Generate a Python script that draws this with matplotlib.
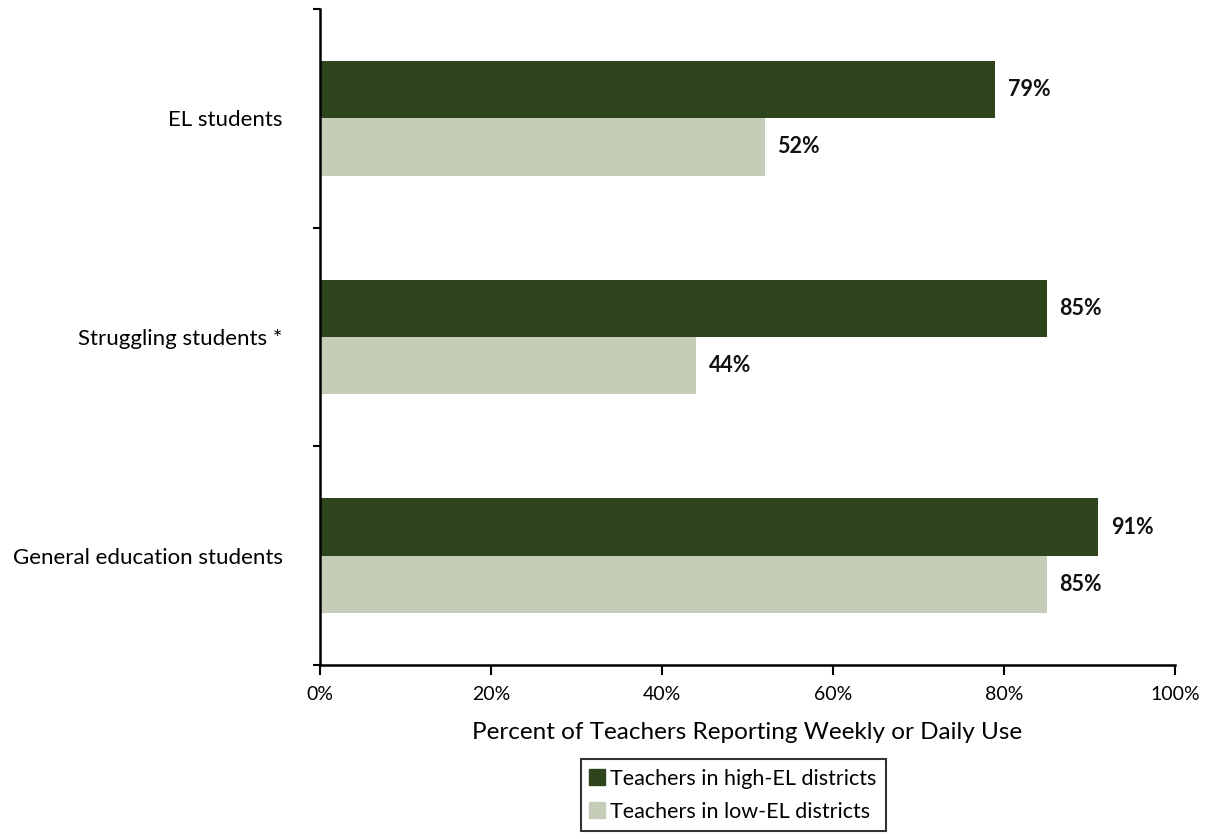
import matplotlib.pyplot as plt
import numpy as np
from matplotlib.ticker import FixedLocator, PercentFormatter
from matplotlib.lines import Line2D

categories = ['General education students', 'Struggling students *', 'EL students']
high_el = [91, 85, 79]
low_el = [85, 44, 52]
series_names = ['Teachers in high-EL districts', 'Teachers in low-EL districts']
dark = '#2d441d'
light = '#c5cdb8'

plt.rcParams['font.family'] = ['Lato', 'DejaVu Sans']

fig = plt.figure(figsize=(12.09, 8.39), dpi=100)
ax = fig.add_axes([0.2647, 0.2074, 0.7072, 0.7819])

y = np.arange(len(categories))
h = 0.262
ax.barh(y + h / 2, high_el, height=h, color=dark)
ax.barh(y - h / 2, low_el, height=h, color=light)

for yi, v in zip(y, high_el):
    ax.text(v + 1.5, yi + h / 2, f'{v}%', va='center', ha='left',
            fontsize=15.5, fontweight='bold', color='#111111')
for yi, v in zip(y, low_el):
    ax.text(v + 1.5, yi - h / 2, f'{v}%', va='center', ha='left',
            fontsize=15.5, fontweight='bold', color='#111111')

ax.set_xlim(0, 100)
ax.set_ylim(-0.5, 2.5)
ax.xaxis.set_major_locator(FixedLocator([0, 20, 40, 60, 80, 100]))
ax.xaxis.set_major_formatter(PercentFormatter(decimals=0))
ax.tick_params(axis='x', labelsize=14, length=7, width=1.5, pad=8, colors='black')

ax.set_yticks(y)
ax.set_yticklabels(categories)
ax.yaxis.set_minor_locator(FixedLocator([-0.5, 0.5, 1.5, 2.5]))
ax.tick_params(axis='y', which='major', length=0, pad=27, labelsize=16)
ax.tick_params(axis='y', which='minor', length=5, width=1.5)

for s in ['top', 'right']:
    ax.spines[s].set_visible(False)
for s in ['left', 'bottom']:
    ax.spines[s].set_linewidth(1.8)

ax.set_xlabel('Percent of Teachers Reporting Weekly or Daily Use', fontsize=17.5, labelpad=14)

handles = [Line2D([], [], marker='s', linestyle='none', markersize=11, color=c)
           for c in (dark, light)]
leg = fig.legend(handles, series_names, loc='upper center', bbox_to_anchor=(0.607, 0.108),
                 frameon=True, fancybox=False, edgecolor='black', fontsize=15.5,
                 handlelength=0.6, handletextpad=0.3, labelspacing=0.6, borderpad=0.45)
leg.get_frame().set_linewidth(1.5)

fig.savefig('out.png', dpi=100)
